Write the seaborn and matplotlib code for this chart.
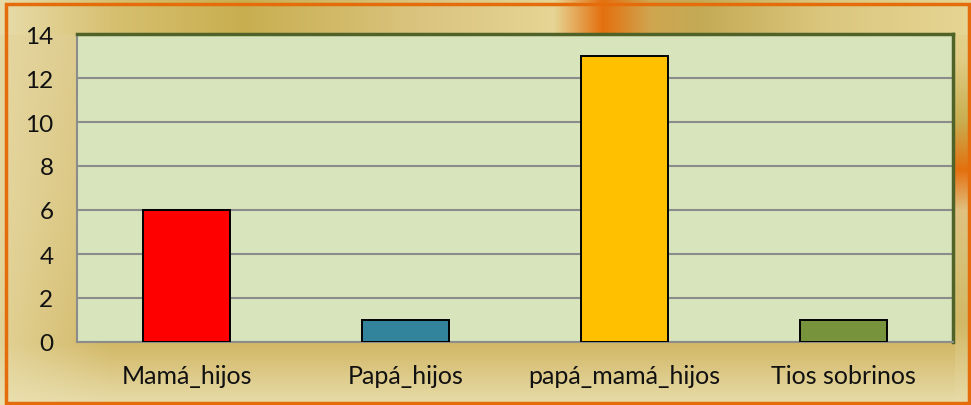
import numpy as np
import pandas as pd
import matplotlib.pyplot as plt
import seaborn as sns
from matplotlib.colors import to_rgb
from matplotlib.patches import Rectangle

# chart data
categories = ["Mamá_hijos", "Papá_hijos", "papá_mamá_hijos", "Tios sobrinos"]
values = [6, 1, 13, 1]
bar_colors = ["#ff0000", "#31849b", "#ffc000", "#77933c"]
y_ticks = [0, 2, 4, 6, 8, 10, 12, 14]

df = pd.DataFrame({"grupo": categories, "n": values})

sns.set_theme(style="white")
plt.rcParams['font.family'] = ['Lato', 'DejaVu Sans']

W, H = 971, 406
fig = plt.figure(figsize=(W / 100, H / 100), dpi=100)


def ramp(n, stops, colors):
    t = np.linspace(0, 1, n)
    c = np.array([to_rgb(x) for x in colors])
    return np.stack([np.interp(t, stops, c[:, k]) for k in range(3)], axis=-1)


# tan textured background, built per region
img = np.zeros((H, W, 3))
img[:, :, :] = ramp(H, [0, 0.5, 0.85, 1.0],
                    ["#dcc888", "#d8c27a", "#d2b866", "#e8dcaa"])[:, None, :]
# left strip lighter at the edge, fading smoothly
wgt = np.clip(1 - np.arange(W) / 110.0, 0, 1)[None, :, None]
img = img * (1 - 0.6 * wgt) + np.array(to_rgb("#ece2b4")) * 0.6 * wgt
# top band: horizontal streaks with an orange flare
top = ramp(W, [0.0, 0.12, 0.25, 0.45, 0.57, 0.62, 0.67, 0.72, 0.85, 1.0],
           ["#e8dcaa", "#d6bf6e", "#c9ae50", "#dcc683", "#e6d594",
            "#e4700f", "#cfa650", "#c4aa55", "#dbc77e", "#e6d594"])
img[:36, :, :] = top[None, :, :]
# right strip: vertical streaks with orange
right = ramp(H, [0.0, 0.15, 0.3, 0.42, 0.52, 0.62, 0.8, 1.0],
             ["#e6d594", "#e0cc84", "#c9ae50", "#e4700f", "#e0c080",
              "#d8c27a", "#d2b866", "#e8dcaa"])
img[36:, 954:, :] = right[36:, None, :]

bg = fig.add_axes([0, 0, 1, 1], zorder=-10)
bg.imshow(img, aspect="auto", extent=[0, 1, 0, 1], origin="upper")
bg.set_xlim(0, 1)
bg.set_ylim(0, 1)
bg.axis("off")
bg.add_patch(Rectangle((0.006, 0.004), 0.992, 0.984, fill=False,
                       edgecolor="#e46c0a", linewidth=2.5, transform=bg.transAxes))

ax = fig.add_axes([77 / W, 63 / H, 876 / W, 308 / H])
ax.set_facecolor("#d8e4bc")
sns.barplot(data=df, x="grupo", y="n", hue="grupo", palette=bar_colors,
            saturation=1, width=0.4, edgecolor="black", linewidth=1.4,
            legend=False, ax=ax, zorder=3)

ax.set_ylim(0, 14)
ax.set_xlim(-0.5, 3.5)
ax.set_yticks(y_ticks)
ax.set_yticklabels([str(t) for t in y_ticks])
ax.yaxis.grid(True, color="#8c8c8c", linewidth=1.5, zorder=0)
ax.set_axisbelow(True)
ax.set_xlabel("")
ax.set_ylabel("")

ax.set_xticks(range(len(categories)))
ax.set_xticklabels(categories)
ax.set_xticks([-0.5, 0.5, 1.5, 2.5, 3.5], minor=True)
ax.tick_params(axis="x", which="major", length=0, pad=16, labelsize=18,
               labelcolor="#111111")
ax.tick_params(axis="x", which="minor", length=6, color="#8c8c8c", width=1.5,
               direction="out")
ax.tick_params(axis="y", length=6, color="#8c8c8c", width=1.5, direction="out",
               labelsize=17.5, pad=11, labelcolor="#111111")

for side in ["left", "bottom"]:
    ax.spines[side].set_color("#8c8c8c")
    ax.spines[side].set_linewidth(1.5)
for side in ["top", "right"]:
    ax.spines[side].set_visible(True)
    ax.spines[side].set_color("#4f6228")
    ax.spines[side].set_linewidth(2.5)

fig.savefig("out.png", dpi=100)
